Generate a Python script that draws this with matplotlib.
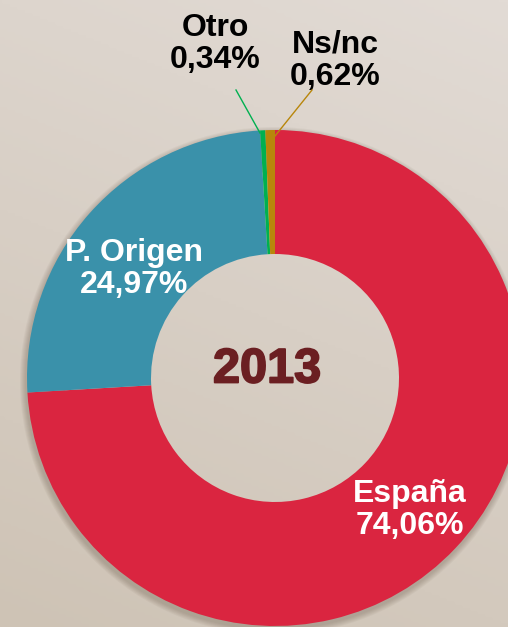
#!/usr/bin/env python3
"""
Donut chart: 2013 distribution (España / P. Origen / Otro / Ns/nc).
"""

import numpy as np
import matplotlib.pyplot as plt
import matplotlib.patheffects as pe
from matplotlib.colors import LinearSegmentedColormap
from matplotlib.patches import Wedge

# data, clockwise from 12 o'clock
labels = ['España', 'P. Origen', 'Otro', 'Ns/nc']
values = [74.06, 24.97, 0.34, 0.62]
value_text = ['74,06%', '24,97%', '0,34%', '0,62%']
colors = ['#da2540', '#3a91aa', '#00b050', '#b8860b']
year = '2013'

W, H = 508, 627
plt.rcParams['font.family'] = ['Liberation Sans', 'DejaVu Sans']

fig = plt.figure(figsize=(W / 100, H / 100), dpi=100)
ax = fig.add_axes([0, 0, 1, 1])

# beige background, lighter at the top right
yy, xx = np.mgrid[0:1:200j, 0:1:200j]
grad = 0.75 * yy + 0.25 * (1 - xx)
bg = LinearSegmentedColormap.from_list('bg', ['#e2dbd5', '#cec3b5'])
ax.imshow(grad, cmap=bg, extent=[0, W, 0, H], origin='upper', aspect='auto', zorder=0)

cx, cy, r = 275, H - 378, 248

# soft shadow under the ring (outer edge only)
for i in range(6):
    ax.add_patch(Wedge((cx - 1, cy - 3), r + 1 + i, 0, 360, width=40 + i,
                       color='#5a4a3a', alpha=0.05, lw=0, zorder=1))

wedges, _ = ax.pie(values, colors=colors, startangle=90, counterclock=False, center=(cx, cy), radius=r,
                   wedgeprops=dict(width=r * 0.5, linewidth=0), frame=True)
for w in wedges:
    w.set_zorder(2)
ax.set_xlim(0, W)
ax.set_ylim(0, H)
ax.set_aspect('equal')
ax.axis('off')

txt = dict(fontsize=23, fontweight='bold', ha='center', va='center', linespacing=1.1, zorder=5)

# labels inside the ring
ax.text(410, H - 510, f'{labels[0]}\n{value_text[0]}', color='white', **txt)
ax.text(134, H - 269, f'{labels[1]}\n{value_text[1]}', color='white', **txt)

# small slices with leader lines
ax.text(215, H - 44, f'{labels[2]}\n{value_text[2]}', color='black', **txt)
ax.text(335, H - 61, f'{labels[3]}\n{value_text[3]}', color='black', **txt)
ax.plot([236, 260], [H - 90, H - 133], color=colors[2], lw=1, zorder=5)
ax.plot([312, 275], [H - 90, H - 136], color=colors[3], lw=1, zorder=5)

ax.text(267, H - 370, year, color='#6b1f22', fontsize=35, fontweight='bold',
        ha='center', va='center', zorder=5,
        path_effects=[pe.withStroke(linewidth=1.3, foreground='#6b1f22')])

fig.savefig('out.png', dpi=100)
